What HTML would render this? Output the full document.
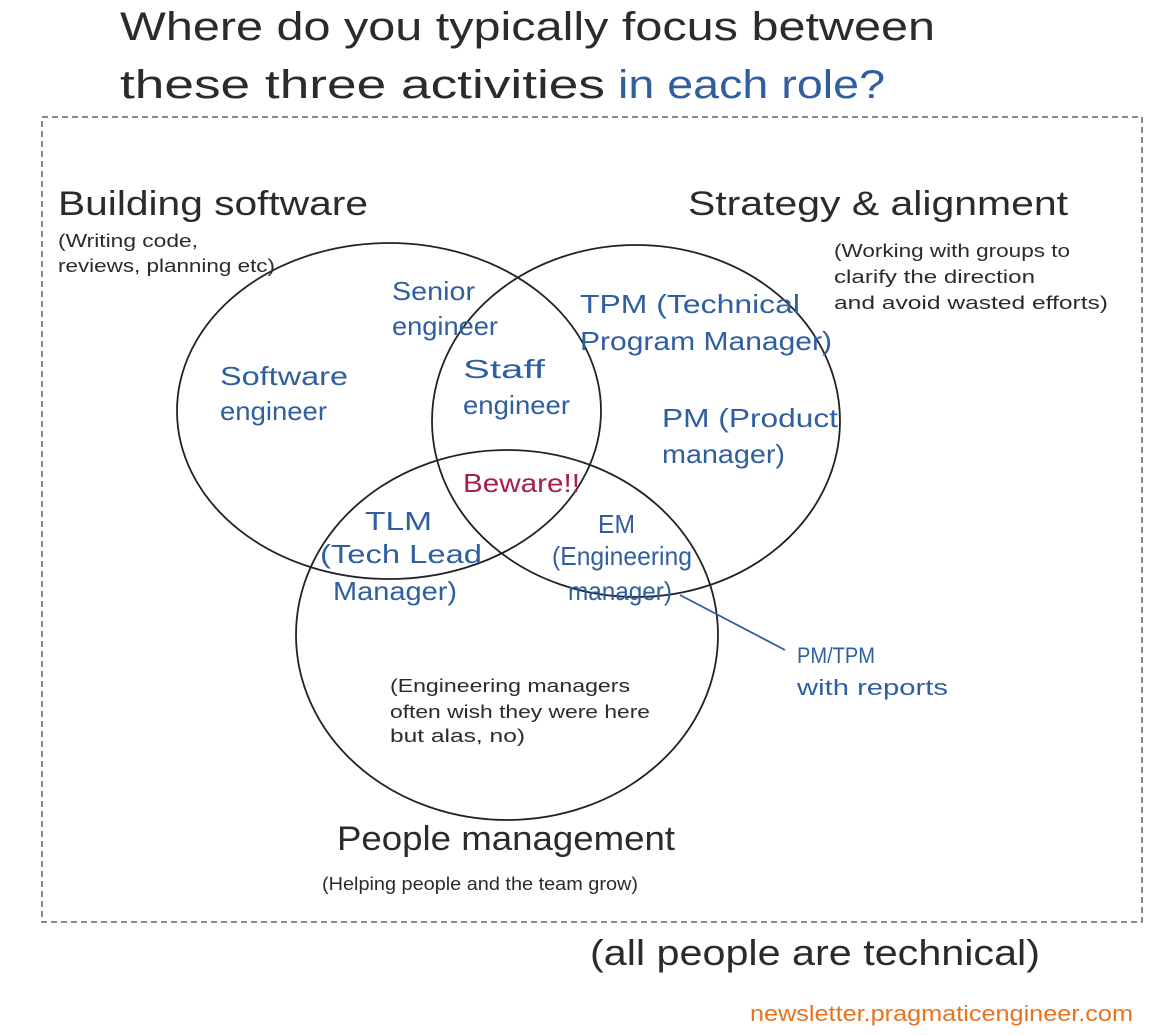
<!DOCTYPE html>
<html><head><meta charset="utf-8"><style>
html,body{margin:0;padding:0;background:#fff;}
svg{display:block}
text{font-family:"Liberation Sans",sans-serif;}
.d{fill:#2b2b2b}.b{fill:#2f5f9f}
</style></head><body>
<svg width="1170" height="1035" viewBox="0 0 1170 1035">
<text class="d" x="120" y="40" font-size="40" textLength="815" lengthAdjust="spacingAndGlyphs">Where do you typically focus between</text>
<text class="d" x="120" y="98" font-size="40" textLength="485" lengthAdjust="spacingAndGlyphs">these three activities</text>
<text class="b" x="618" y="98" font-size="40" textLength="267" lengthAdjust="spacingAndGlyphs">in each role?</text>
<rect x="42" y="117" width="1100" height="805" fill="none" stroke="#444" stroke-width="1.3" stroke-dasharray="6,4"/>
<g fill="none" stroke="#222" stroke-width="1.8">
<ellipse cx="389" cy="411" rx="212" ry="168"/>
<ellipse cx="636" cy="421" rx="204" ry="176"/>
<ellipse cx="507" cy="635" rx="211" ry="185"/>
</g>
<line x1="680" y1="595" x2="785" y2="650" stroke="#2f5f9f" stroke-width="1.8"/>
<g class="d">
<text x="58" y="215" font-size="34" textLength="310" lengthAdjust="spacingAndGlyphs">Building software</text>
<text x="58" y="247" font-size="18" textLength="140" lengthAdjust="spacingAndGlyphs">(Writing code,</text>
<text x="58" y="272" font-size="18" textLength="217" lengthAdjust="spacingAndGlyphs">reviews, planning etc)</text>
<text x="688" y="215" font-size="34" textLength="380" lengthAdjust="spacingAndGlyphs">Strategy &amp; alignment</text>
<text x="834" y="257" font-size="18" textLength="236" lengthAdjust="spacingAndGlyphs">(Working with groups to</text>
<text x="834" y="283" font-size="18" textLength="201" lengthAdjust="spacingAndGlyphs">clarify the direction</text>
<text x="834" y="309" font-size="18" textLength="274" lengthAdjust="spacingAndGlyphs">and avoid wasted efforts)</text>
<text x="390" y="692" font-size="18" textLength="240" lengthAdjust="spacingAndGlyphs">(Engineering managers</text>
<text x="390" y="718" font-size="18" textLength="260" lengthAdjust="spacingAndGlyphs">often wish they were here</text>
<text x="390" y="742" font-size="18" textLength="135" lengthAdjust="spacingAndGlyphs">but alas, no)</text>
<text x="337" y="850" font-size="34" textLength="338" lengthAdjust="spacingAndGlyphs">People management</text>
<text x="322" y="890" font-size="18" textLength="316" lengthAdjust="spacingAndGlyphs">(Helping people and the team grow)</text>
<text x="590" y="965" font-size="36" textLength="450" lengthAdjust="spacingAndGlyphs">(all people are technical)</text>
</g>
<g class="b" font-size="26">
<text x="392" y="300" textLength="83" lengthAdjust="spacingAndGlyphs">Senior</text>
<text x="392" y="335" textLength="106" lengthAdjust="spacingAndGlyphs">engineer</text>
<text x="220" y="385" textLength="128" lengthAdjust="spacingAndGlyphs">Software</text>
<text x="220" y="420" textLength="107" lengthAdjust="spacingAndGlyphs">engineer</text>
<text x="463" y="378" textLength="82" lengthAdjust="spacingAndGlyphs">Staff</text>
<text x="463" y="414" textLength="107" lengthAdjust="spacingAndGlyphs">engineer</text>
<text x="580" y="313" textLength="220" lengthAdjust="spacingAndGlyphs">TPM (Technical</text>
<text x="580" y="350" textLength="252" lengthAdjust="spacingAndGlyphs">Program Manager)</text>
<text x="662" y="427" textLength="176" lengthAdjust="spacingAndGlyphs">PM (Product</text>
<text x="662" y="463" textLength="123" lengthAdjust="spacingAndGlyphs">manager)</text>
<text x="365" y="530" textLength="67" lengthAdjust="spacingAndGlyphs">TLM</text>
<text x="320" y="563" textLength="162" lengthAdjust="spacingAndGlyphs">(Tech Lead</text>
<text x="333" y="600" textLength="124" lengthAdjust="spacingAndGlyphs">Manager)</text>
<text x="598" y="533" textLength="37" lengthAdjust="spacingAndGlyphs">EM</text>
<text x="552" y="565" textLength="140" lengthAdjust="spacingAndGlyphs">(Engineering</text>
<text x="568" y="600" textLength="104" lengthAdjust="spacingAndGlyphs">manager)</text>
<text x="797" y="663" font-size="22" textLength="78" lengthAdjust="spacingAndGlyphs">PM/TPM</text>
<text x="797" y="695" font-size="22" textLength="151" lengthAdjust="spacingAndGlyphs">with reports</text>
</g>
<text x="463" y="492" font-size="26" fill="#a5204a" textLength="117" lengthAdjust="spacingAndGlyphs">Beware!!</text>
<text x="750" y="1021" font-size="22" fill="#e8731f" textLength="383" lengthAdjust="spacingAndGlyphs">newsletter.pragmaticengineer.com</text>
</svg>
</body></html>
